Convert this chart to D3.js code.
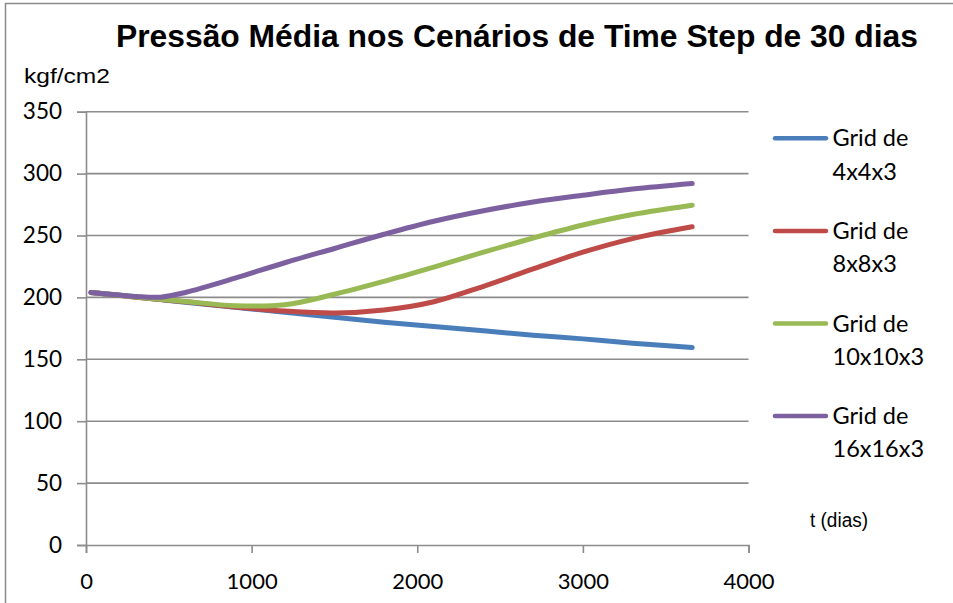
<!DOCTYPE html>
<html>
<head>
<meta charset="utf-8">
<script src="https://cdn.jsdelivr.net/npm/d3@7"></script>
<style>
  html, body { margin: 0; padding: 0; background: #fff; }
  svg { display: block; }
</style>
</head>
<body>
<svg id="chart" width="953" height="603"></svg>
<script>
// Simulated time (days) and average reservoir pressure (kgf/cm2) per grid
const days      = [30, 300, 450, 600, 900, 1200, 1500, 1800, 2100, 2400, 2700, 3000, 3300, 3660];
const grid4x4   = [204, 200.5, 198.2, 196, 192, 188, 184, 180, 176.5, 173, 169.5, 166.5, 163, 159.5];
const grid8x8   = [204, 200.2, 198.3, 196.5, 192.3, 189, 187.4, 189.8, 196.5, 209, 223, 236.5, 247.5, 257];
const grid10x10 = [204, 200.3, 198.4, 196.7, 193.3, 194, 202.5, 213, 224.5, 236.5, 248, 258.5, 267, 274.5];
const grid16x16 = [204, 200.8, 200.2, 204, 215.5, 228, 239.5, 251, 261.5, 270, 277, 282.5, 287.5, 292];

const seriesNames  = ["Grid de|4x4x3", "Grid de|8x8x3", "Grid de|10x10x3", "Grid de|16x16x3"];
const seriesValues = [grid4x4, grid8x8, grid10x10, grid16x16];
const seriesColors = ["#4A7EBB", "#BE4B48", "#98B954", "#7D60A0"];

const xTicks = [0, 1000, 2000, 3000, 4000];
const yTicks = [0, 50, 100, 150, 200, 250, 300, 350];

const title  = "Pressão Média nos Cenários de Time Step de 30 dias";
const yLabel = "kgf/cm2";
const xLabel = "t (dias)";

const svg = d3.select("#chart");

// outer frame
svg.append("rect")
  .attr("x", 5.5).attr("y", 3.5)
  .attr("width", 1000).attr("height", 700)
  .attr("fill", "none").attr("stroke", "#8a8a8a").attr("stroke-width", 1.5);

const x = d3.scaleLinear().domain([0, 4000]).range([86, 748.5]);
const y = d3.scaleLinear().domain([0, 350]).range([545, 111.7]);

const gridColor = "#8c8c8c";

// horizontal gridlines
svg.append("g")
  .selectAll("line")
  .data(yTicks.filter(d => d > 0))
  .join("line")
  .attr("x1", x(0)).attr("x2", x(4000))
  .attr("y1", d => y(d)).attr("y2", d => y(d))
  .attr("stroke", gridColor).attr("stroke-width", 1.6);

// y axis
const yAxis = svg.append("g")
  .attr("transform", `translate(${x(0)},0)`)
  .call(d3.axisLeft(y).tickValues(yTicks).tickSize(9).tickPadding(15).tickFormat(d3.format("d")));
yAxis.select(".domain").attr("stroke", gridColor).attr("stroke-width", 1.6);
yAxis.selectAll(".tick line").attr("stroke", gridColor).attr("stroke-width", 1.6);
yAxis.selectAll(".tick text")
  .attr("font-family", "Lato, sans-serif").attr("font-size", 22.5).attr("fill", "#000");

// x axis
const xAxis = svg.append("g")
  .attr("transform", `translate(0,${y(0)})`)
  .call(d3.axisBottom(x).tickValues(xTicks).tickSize(8).tickPadding(20).tickFormat(d3.format("d")));
xAxis.select(".domain").attr("stroke", gridColor).attr("stroke-width", 1.6);
xAxis.selectAll(".tick line").attr("stroke", gridColor).attr("stroke-width", 1.6);
xAxis.selectAll(".tick text")
  .attr("font-family", "Lato, sans-serif").attr("font-size", 22).attr("fill", "#000");

// series lines
const line = d3.line()
  .x((d, i) => x(days[i]))
  .y(d => y(d))
  .curve(d3.curveCatmullRom.alpha(0.5));

svg.append("g")
  .selectAll("path")
  .data(seriesValues)
  .join("path")
  .attr("d", d => line(d))
  .attr("fill", "none")
  .attr("stroke", (d, i) => seriesColors[i])
  .attr("stroke-width", 5)
  .attr("stroke-linecap", "round")
  .attr("stroke-linejoin", "round");

// title
svg.append("text")
  .attr("x", 517).attr("y", 46.7)
  .attr("text-anchor", "middle")
  .attr("font-family", "'Liberation Sans', Arial, sans-serif")
  .attr("font-weight", "bold").attr("font-size", 31)
  .attr("textLength", 802).attr("lengthAdjust", "spacingAndGlyphs")
  .text(title);

// axis unit labels
svg.append("text")
  .attr("x", 24).attr("y", 83.3)
  .attr("font-family", "'Liberation Sans', Arial, sans-serif")
  .attr("font-size", 21)
  .attr("textLength", 86).attr("lengthAdjust", "spacingAndGlyphs")
  .text(yLabel);

svg.append("text")
  .attr("x", 810).attr("y", 527)
  .attr("font-family", "'Liberation Sans', Arial, sans-serif")
  .attr("font-size", 20)
  .attr("textLength", 58).attr("lengthAdjust", "spacingAndGlyphs")
  .text(xLabel);

// legend
const legend = svg.append("g")
  .selectAll("g")
  .data(seriesNames)
  .join("g")
  .attr("transform", (d, i) => `translate(0,${138.3 + i * 92.6})`);

legend.append("line")
  .attr("x1", 775).attr("x2", 826)
  .attr("y1", 0).attr("y2", 0)
  .attr("stroke", (d, i) => seriesColors[i])
  .attr("stroke-width", 4.5)
  .attr("stroke-linecap", "round");

legend.append("text")
  .attr("font-family", "Lato, sans-serif")
  .attr("font-size", 23.5)
  .selectAll("tspan")
  .data(d => d.split("|"))
  .join("tspan")
  .attr("x", 832.5)
  .attr("y", (d, i) => 8 + i * 33.3)
  .text(d => d);
</script>
</body>
</html>
